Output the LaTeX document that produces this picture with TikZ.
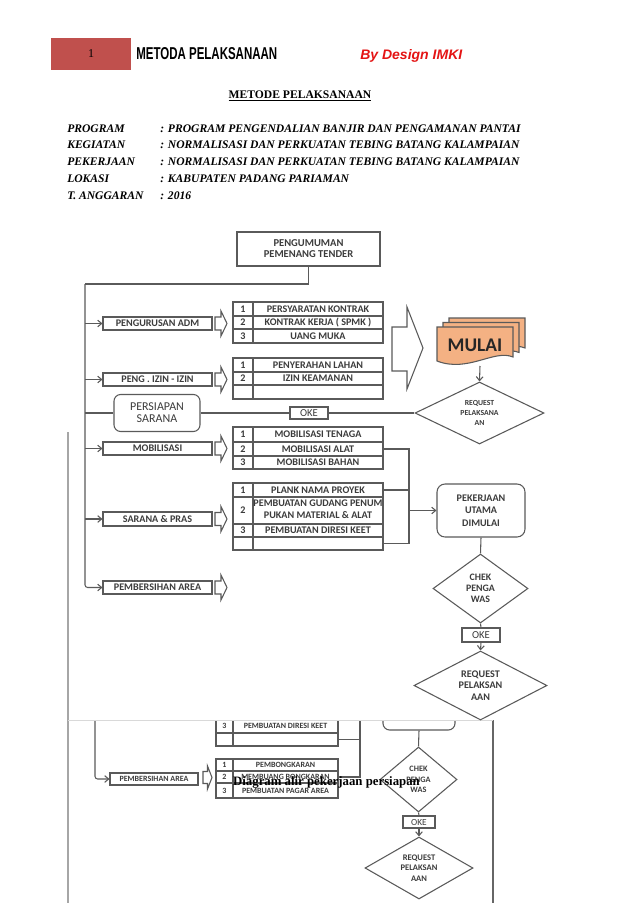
\documentclass[tikz,border=0pt]{standalone}
\usepackage{fontspec}
\setmainfont{Liberation Serif}
\newfontfamily\diag{Carlito}
\newfontfamily\hdr{Liberation Sans}
\usetikzlibrary{arrows.meta,shapes.geometric}
\definecolor{hdrred}{RGB}{192,80,77}
\definecolor{lnc}{RGB}{90,90,90}
\definecolor{txc}{RGB}{60,60,60}
\definecolor{mulaifill}{RGB}{244,177,131}
\definecolor{brandred}{RGB}{228,20,20}
\newcommand\cellfont{\diag\bfseries\fontsize{7.6}{9}\selectfont}
\newcommand\TbL{233}\newcommand\TbM{253}\newcommand\TbR{383}
\newcommand\tabrow[5]{%
  \node[cell, sz={\TbM-\TbL}{#3-#2}] (#1n) at ({(\TbL+\TbM)/2},{(#2+#3)/2}) {\makebox[0pt]{#4}};
  \node[cell, sz={\TbR-\TbM}{#3-#2}] (#1) at ({(\TbM+\TbR)/2},{(#2+#3)/2}) {\makebox[0pt]{#5}};}
\tikzset{
  lw/.style={draw=lnc, line width=0.8pt},
  sz/.style 2 args={minimum width={(#1)*0.75pt}, minimum height={(#2)*0.75pt}},
  lbl/.style={lw, fill=white, inner sep=0pt, font=\diag\bfseries\fontsize{7.6}{9}\selectfont, text=txc, align=center},
  rlbl/.style={lbl, rounded corners=5pt},
  cell/.style={lw, fill=white, inner sep=0pt, font=\cellfont, text=txc},
  dia/.style={diamond, lw, fill=white, inner sep=0pt, shape aspect=#1, text=txc, align=center},
  conn/.style={draw=lnc, line width=0.8pt},
  arr/.style={conn, -{Straight Barb[length=3pt,width=5pt]}},
  info/.style={anchor=base west, inner sep=0pt, font=\fontsize{8.7}{10}\selectfont\bfseries\itshape},
  blk/.pic={\draw[lw, fill=white] (0,-6.5) -- (6,-6.5) -- (6,-12.5) -- (12,0) -- (6,12.5) -- (6,6.5) -- (0,6.5) -- cycle;},
}
\begin{document}
\begin{tikzpicture}[x=0.75pt,y=-0.75pt]
\path[use as bounding box, fill=white] (0,0) rectangle (638,903);

% ---------- header ----------
\node[fill=hdrred, sz={80}{32}, inner sep=0pt, font=\fontsize{9}{10}\selectfont] (hdrbox) at (91,54) {1};
\node[anchor=base west, inner sep=0pt] (hdrtitle) at (136,59) {\resizebox{105.75pt}{9pt}{\hdr\bfseries METODA PELAKSANAAN}};
\node[anchor=base west, inner sep=0pt, text=brandred] (brand) at (360,59) {\resizebox{76.5pt}{7.5pt}{\hdr\bfseries\itshape By Design IMKI}};

\node[anchor=base, inner sep=0pt, font=\fontsize{8.7}{10}\selectfont\bfseries] (maintitle) at (300,98) {\underline{METODE PELAKSANAAN}};

\foreach \lab/\val/\yy [count=\i] in {PROGRAM/PROGRAM PENGENDALIAN BANJIR DAN PENGAMANAN PANTAI/132,
  KEGIATAN/NORMALISASI DAN PERKUATAN TEBING BATANG KALAMPAIAN/148,
  PEKERJAAN/NORMALISASI DAN PERKUATAN TEBING BATANG KALAMPAIAN/165,
  LOKASI/KABUPATEN PADANG PARIAMAN/182,
  T. ANGGARAN/2016/199}{
  \node[info] (lab\i) at (67,\yy) {\lab};
  \node[info] (val\i) at (160,\yy) {: \val};
}

% ---------- borders of lower picture ----------
\draw[draw=black!35, line width=1pt] (68,432) -- (68,903);
\draw[draw=black!60, line width=1.4pt] (493,720) -- (493,903);

% ---------- lower (covered) picture ----------
\begin{scope}
\clip (62,720) rectangle (500,903);
\renewcommand\cellfont{\diag\bfseries\fontsize{6}{7.2}\selectfont}
\renewcommand\TbL{216}\renewcommand\TbM{233}\renewcommand\TbR{338}
\tabrow{bk3}{719}{733}{3}{PEMBUATAN DIRESI KEET}
\tabrow{bk4}{733}{746}{}{}
\tabrow{bpa}{759}{771}{1}{PEMBONGKARAN}
\tabrow{bpb}{771}{783}{2}{MEMBUANG BONGKARAN}
\tabrow{bpc}{783}{798}{3}{PEMBUATAN PAGAR AREA}
\node[lbl, sz={88}{12}, font=\diag\bfseries\fontsize{6}{7}\selectfont] (pa2) at (154,779) {PEMBERSIHAN AREA};
\pic[xscale=0.75, yscale=0.92] at (203,777.5) {blk};
\coordinate (btrunk) at (95,700);
\draw[arr, rounded corners=2pt] (btrunk) |- (pa2.west);
\coordinate (bbrk) at (360,700);
\draw[conn] (bbrk) -- (bbrk |- bpb.east) -- (bpb.east);
\draw[conn] (bk4.east) -- (bbrk |- bk4.east);
\node[rlbl, sz={72}{50}] (kerja2) at (419,705) {};
\node[dia=1.18, sz={77}{65}, font=\diag\bfseries\fontsize{6.2}{7.9}\selectfont] (chek2) at (418.5,779.5) {CHEK\\PENGA\\WAS};
\node[lbl, sz={32}{12}, font=\diag\fontsize{7}{8}\selectfont] (oke3) at (419,822) {OKE};
\node[dia=1.74, sz={108}{62}, font=\diag\bfseries\fontsize{6.4}{7.9}\selectfont] (req3) at (419,868) {REQUEST\\PELAKSAN\\AAN};
\draw[conn] (kerja2.south) -- (chek2.north);
\draw[conn] (chek2.south) -- (oke3.north);
\draw[arr] (oke3.south) -- (req3.north);
\end{scope}
\draw[draw=black!15, line width=1pt] (68,720.5) -- (493,720.5);

% ---------- upper picture ----------
\node[lbl, sz={143}{34}, font=\diag\bfseries\fontsize{7.9}{8.3}\selectfont] (tender) at (308.5,249) {PENGUMUMAN\\PEMENANG TENDER};

\node[lbl, sz={109}{13}] (adm) at (157.5,323.5) {PENGURUSAN ADM};
\node[lbl, sz={109}{13}] (izin) at (157.5,379.5) {PENG . IZIN - IZIN};
\node[rlbl, sz={86}{37}, font=\diag\fontsize{9}{9}\selectfont] (ps) at (157,413) {PERSIAPAN\\SARANA};
\node[lbl, sz={109}{13}] (mob) at (157.5,448.5) {MOBILISASI};
\node[lbl, sz={109}{14}] (sar) at (157.5,519) {SARANA \& PRAS};
\node[lbl, sz={109}{13}] (pa) at (157.5,587.5) {PEMBERSIHAN AREA};

\coordinate (trunk) at (85,284);
\draw[conn] (tender.south) |- (trunk);
\draw[arr, rounded corners=2pt] (trunk) |- (pa.west);
\foreach \n in {adm,izin,mob,sar} \draw[arr] (trunk |- \n.west) -- (\n.west);
\draw[conn] (trunk |- ps.west) -- (ps.west);

\foreach \yy in {323.5,379.5,448.5,519,587.5} \pic at (215,\yy) {blk};

\tabrow{t1a}{302}{316}{1}{PERSYARATAN KONTRAK}
\tabrow{t1b}{316}{329}{2}{KONTRAK KERJA ( SPMK )}
\tabrow{t1c}{329}{343}{3}{UANG MUKA}
\tabrow{t2a}{358}{372}{1}{PENYERAHAN LAHAN}
\tabrow{t2b}{372}{385}{2}{IZIN KEAMANAN}
\tabrow{t2c}{385}{399}{}{}
\tabrow{t3a}{427}{442}{1}{MOBILISASI TENAGA}
\tabrow{t3b}{442}{456}{2}{MOBILISASI ALAT}
\tabrow{t3c}{456}{469}{3}{MOBILISASI BAHAN}
\tabrow{t4a}{483}{497}{1}{PLANK NAMA PROYEK}
\tabrow{t4b}{497}{524}{2}{\begin{tabular}{@{}c@{}}PEMBUATAN GUDANG PENUM\\PUKAN MATERIAL \& ALAT\end{tabular}}
\tabrow{t4c}{524}{537}{3}{PEMBUATAN DIRESI KEET}
\tabrow{t4d}{537}{550}{}{}

% big block arrow
\draw[lw, fill=white] (392,327) -- (407,327) -- (407,307) -- (423,348) -- (407,389) -- (407,371) -- (392,371) -- cycle;

% MULAI multi-document
\foreach \dx/\dy in {12/-9, 6/-4.5, 0/0}{
  \filldraw[lw, fill=mulaifill, shift={(\dx,\dy)}] (437,327) -- (513,327) -- (513,357) .. controls (494,349) and (468,373) .. (437,361) -- cycle;
}
\node[font=\diag\bfseries\fontsize{14.5}{16}\selectfont, text=black!85, inner sep=0pt] (mulai) at (475,345) {MULAI};
\coordinate (mulaib) at (480,366);

\node[dia=2.08, sz={129}{62}, font=\diag\bfseries\fontsize{5.8}{7.5}\selectfont] (req1) at (479.5,413) {REQUEST\\PELAKSANA\\AN};
\draw[arr] (mulaib) -- (req1.north);

\node[lbl, sz={38}{12}, font=\diag\fontsize{8}{8}\selectfont] (oke1) at (309,413) {OKE};
\draw[conn] (ps.east) -- (oke1.west);
\draw[conn] (oke1.east) -- (req1.west);

\node[rlbl, sz={88}{53}, rounded corners=6pt, font=\diag\bfseries\fontsize{7.6}{9.4}\selectfont] (kerja) at (481,510.5) {PEKERJAAN\\UTAMA\\DIMULAI};

\coordinate (brk) at (409,440);
\draw[conn] (t3b.east) -- (brk |- t3b.east) -- (brk |- t4d.east) -- (t4d.east);
\draw[conn] (t4a.east) -- (brk |- t4a.east);
\draw[arr] (brk |- kerja.west) -- (kerja.west);

\node[dia=1.38, sz={95}{69}, font=\diag\bfseries\fontsize{7.4}{8.3}\selectfont] (chek1) at (480.5,588.5) {CHEK\\PENGA\\WAS};
\node[lbl, sz={38}{14}, font=\diag\fontsize{8}{8}\selectfont] (oke2) at (481,635) {OKE};
\node[dia=1.93, sz={133}{69}, font=\diag\bfseries\fontsize{7.6}{8.6}\selectfont] (req2) at (480.5,685.5) {REQUEST\\PELAKSAN\\AAN};
\draw[conn] (kerja.south) -- (chek1.north);
\draw[conn] (chek1.south) -- (oke2.north);
\draw[arr] (oke2.south) -- (req2.north);

% caption over everything
\node[inner sep=0pt, font=\bfseries\fontsize{9.6}{11}\selectfont] (caption) at (326.5,782) {Diagram alir pekerjaan persiapan};
\end{tikzpicture}
\end{document}
